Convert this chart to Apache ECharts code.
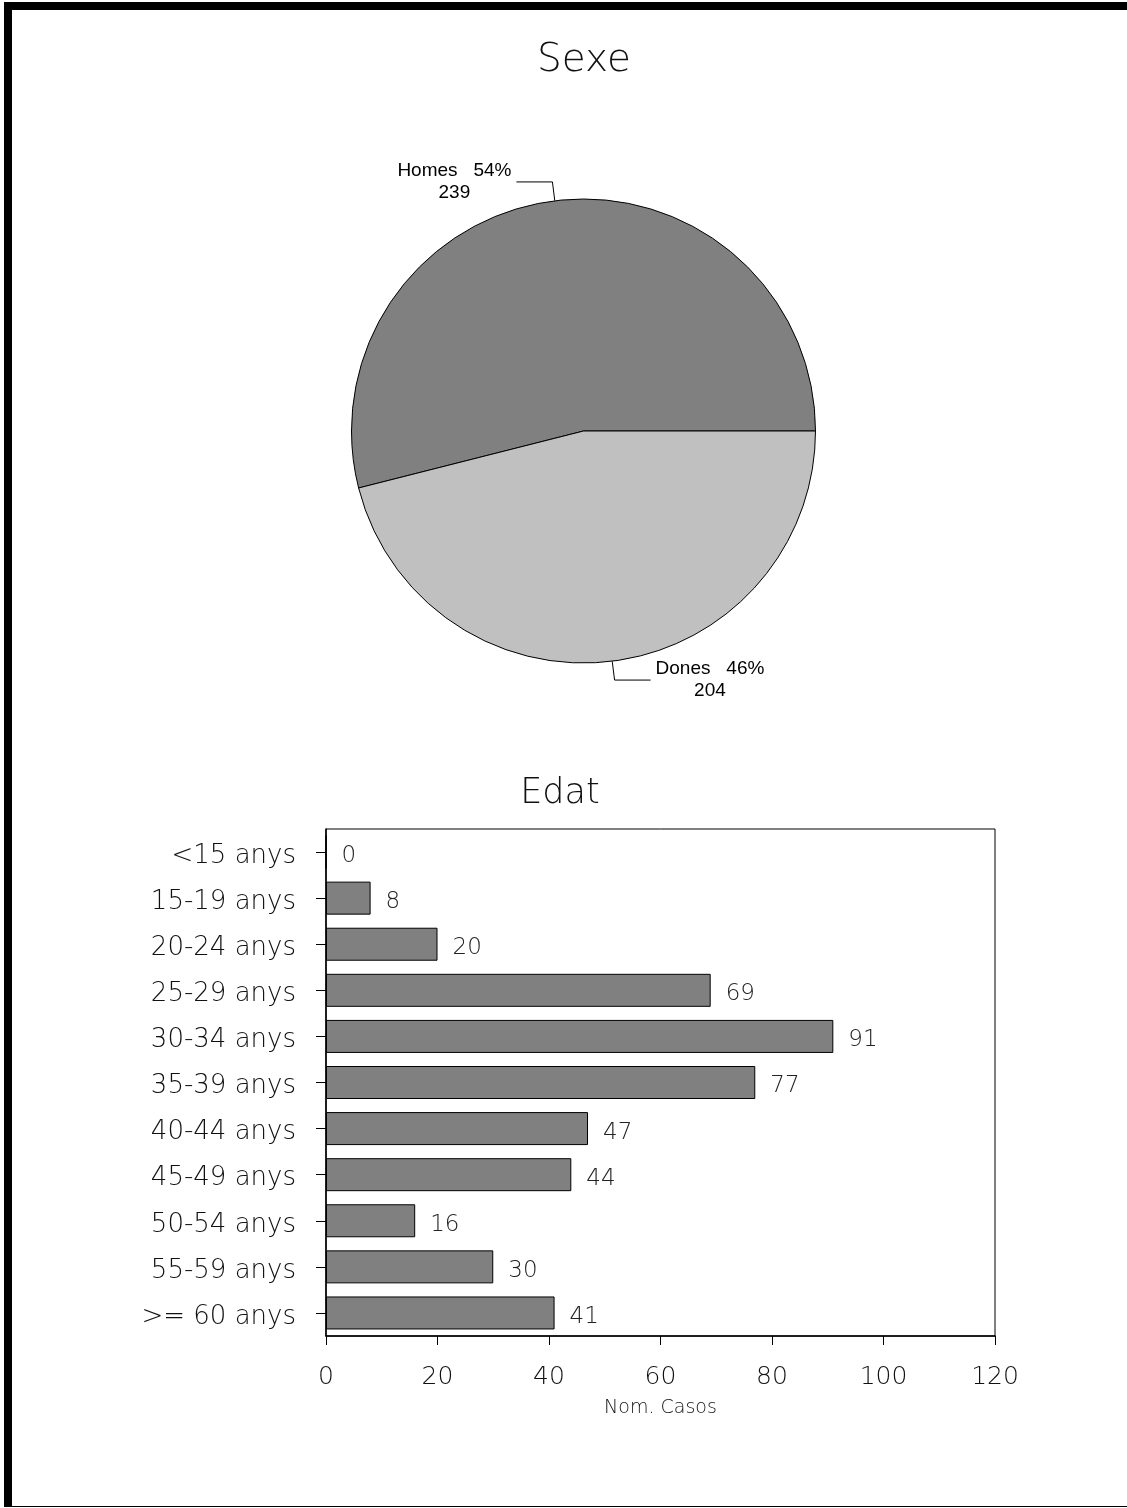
<!DOCTYPE html>
<html><head><meta charset="utf-8">
<script src="https://cdn.jsdelivr.net/npm/echarts@6/dist/echarts.min.js"></script>
<style>
html,body{margin:0;padding:0;background:#fff}
#c{position:absolute;left:0;top:0;width:1127px;height:1508px}
.b{position:absolute;background:#000}
</style></head><body>
<div id="c"></div>
<div class="b" style="left:4px;top:2px;width:1123px;height:8px"></div>
<div class="b" style="left:4px;top:2px;width:8px;height:1505px"></div>
<div class="b" style="left:4px;top:1506px;width:1123px;height:1px"></div>
<script>
const sexCategories = ['Homes', 'Dones'];
const sexValues = [239, 204];
const ageCategories = ['<15 anys', '15-19 anys', '20-24 anys', '25-29 anys', '30-34 anys', '35-39 anys', '40-44 anys', '45-49 anys', '50-54 anys', '55-59 anys', '>= 60 anys'];
const ageValues = [0, 8, 20, 69, 91, 77, 47, 44, 16, 30, 41];
const xMin = 0, xMax = 120, xStep = 20;

const sexColors = ['#808080', '#c0c0c0'];
const thin = "'DejaVu Sans', sans-serif";
const chart = echarts.init(document.getElementById('c'), null, {renderer: 'canvas'});
chart.setOption({
  animation: false,
  backgroundColor: '#fff',
  graphic: [
    {type: 'text', x: 584, y: 61, silent: true,
     style: {text: 'Sexe', fontFamily: thin, fontWeight: 200, fontSize: 39, fill: '#111', align: 'center', verticalAlign: 'middle'}},
    {type: 'text', x: 560, y: 794, silent: true,
     style: {text: 'Edat', fontFamily: thin, fontWeight: 200, fontSize: 35, fill: '#111', align: 'center', verticalAlign: 'middle'}}
  ],
  grid: {left: 326, right: 132, top: 829, bottom: 172, show: true, borderColor: '#000', borderWidth: 1, containLabel: false},
  xAxis: {
    type: 'value', min: xMin, max: xMax, interval: xStep,
    name: 'Nom. Casos', nameLocation: 'middle', nameGap: 63,
    nameTextStyle: {fontFamily: thin, fontWeight: 200, fontSize: 19, color: '#111'},
    axisLine: {show: true, lineStyle: {color: '#000', width: 1.5}},
    axisTick: {show: true, length: 9, lineStyle: {color: '#000', width: 1}},
    axisLabel: {margin: 29, fontFamily: thin, fontWeight: 200, fontSize: 25, color: '#111'},
    splitLine: {show: false}
  },
  yAxis: {
    type: 'category', data: ageCategories, inverse: true,
    axisLine: {show: true, lineStyle: {color: '#000', width: 1.5}},
    axisTick: {show: true, alignWithLabel: true, length: 10, lineStyle: {color: '#000', width: 1}},
    axisLabel: {
      margin: 30, formatter: '{a|{value}}',
      rich: {a: {fontFamily: thin, fontWeight: 200, fontSize: 26, color: '#111', padding: [8, 0, 0, 0]}}
    },
    splitLine: {show: false}
  },
  series: [
    {
      type: 'pie', center: [583.5, 431], radius: 232,
      startAngle: 0, clockwise: false, avoidLabelOverlap: false, percentPrecision: 0,
      silent: true,
      data: sexCategories.map((n, i) => ({name: n, value: sexValues[i], itemStyle: {color: sexColors[i]}})),
      itemStyle: {borderColor: '#000', borderWidth: 1},
      label: {
        show: true, position: 'outside',
        formatter: '{t|{b}   {d}%}\n{t|{c}}',
        rich: {t: {align: 'center', fontFamily: "'Liberation Sans', Arial, sans-serif", fontSize: 19, lineHeight: 22, color: '#000'}}
      },
      labelLine: {show: true, length: 19, length2: 36, smooth: false, lineStyle: {color: '#000', width: 1}},
      emphasis: {disabled: true}
    },
    {
      type: 'bar', data: ageValues, barWidth: 33, silent: true,
      itemStyle: {color: '#808080', borderColor: '#000', borderWidth: 1},
      label: {show: true, position: 'right', distance: 15, offset: [0, 4], fontFamily: thin, fontWeight: 200, fontSize: 23, color: '#222'},
      emphasis: {disabled: true}
    }
  ]
});
</script>
</body></html>
